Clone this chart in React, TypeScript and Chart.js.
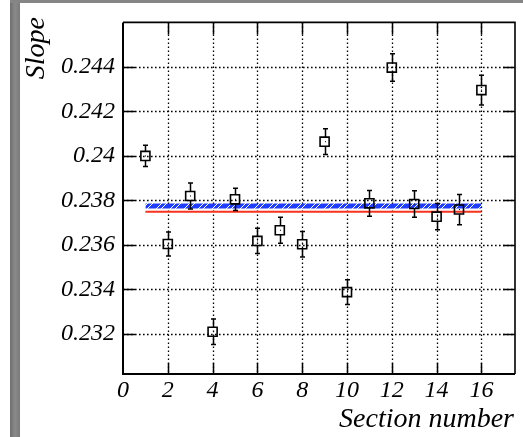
import React, { useEffect, useRef } from 'react';
import { Chart, registerables } from 'chart.js';

Chart.register(...registerables);

const sections = [1, 2, 3, 4, 5, 6, 7, 8, 9, 10, 11, 12, 13, 14, 15, 16];
const slopes = [0.2400, 0.23604, 0.2382, 0.2321, 0.23805, 0.23618, 0.23666, 0.23603, 0.24064, 0.23388, 0.23787, 0.24397, 0.23784, 0.23727, 0.23759, 0.24296];
const slopeErrors = [0.00048, 0.00054, 0.00058, 0.00057, 0.0005, 0.00057, 0.00058, 0.00057, 0.00058, 0.00056, 0.00058, 0.00062, 0.0006, 0.00059, 0.00068, 0.00067];
const fitValue = 0.23749;
const bandLow = 0.23764;
const bandHigh = 0.23786;
const fitRange = [1, 16];
const xTicks = [0, 2, 4, 6, 8, 10, 12, 14, 16];
const xTickLabels = ['0', '2', '4', '6', '8', '10', '12', '14', '16'];
const yTicks = [0.232, 0.234, 0.236, 0.238, 0.24, 0.242, 0.244];
const yTickLabels = ['0.232', '0.234', '0.236', '0.238', '0.24', '0.242', '0.244'];
const xTitle = 'Section number';
const yTitle = 'Slope';

const FONT = "'Liberation Serif', 'Times New Roman', 'DejaVu Serif', serif";

function makePattern(): CanvasPattern | string {
  const c = document.createElement('canvas');
  c.width = 14;
  c.height = 14;
  const cx = c.getContext('2d');
  if (!cx) return '#1f3dff';
  const img = cx.createImageData(14, 14);
  for (let y = 0; y < 14; y++) {
    for (let x = 0; x < 14; x++) {
      const d = (x + y) % 14;
      const white = d === 0 || d === 5;
      const k = (y * 14 + x) * 4;
      if (white) {
        img.data[k] = 255; img.data[k + 1] = 255; img.data[k + 2] = 255; img.data[k + 3] = 255;
      } else {
        img.data[k] = 31; img.data[k + 1] = 61; img.data[k + 2] = 255; img.data[k + 3] = 255;
      }
    }
  }
  cx.putImageData(img, 0, 0);
  const p = cx.createPattern(c, 'repeat');
  return p || '#1f3dff';
}

const decorPlugin = {
  id: 'decor',
  beforeDraw(chart: any) {
    const { ctx, width, height } = chart;
    ctx.save();
    ctx.fillStyle = '#ffffff';
    ctx.fillRect(0, 0, width, height);
    const g = ctx.createLinearGradient(10, 0, 20, 0);
    g.addColorStop(0, '#6f6f6f');
    g.addColorStop(0.5, '#8a8a8a');
    g.addColorStop(1, '#7a7a7a');
    ctx.fillStyle = g;
    ctx.fillRect(10, 0, 10, height);
    ctx.fillStyle = '#858585';
    ctx.fillRect(10, 0, width - 10, 3);
    ctx.restore();
  },
  beforeDatasetsDraw(chart: any) {
    const { ctx, chartArea: a, scales } = chart;
    const xs = scales.x, ys = scales.y;
    ctx.save();
    ctx.strokeStyle = '#000';
    ctx.lineWidth = 1.3;
    ctx.setLineDash([1.6, 2.4]);
    xTicks.forEach((v) => {
      const px = Math.round(xs.getPixelForValue(v)) + 0.5;
      if (px <= a.left + 2 || px >= a.right - 2) return;
      ctx.beginPath();
      ctx.moveTo(px, a.top);
      ctx.lineTo(px, a.bottom);
      ctx.stroke();
    });
    yTicks.forEach((v) => {
      const py = Math.round(ys.getPixelForValue(v)) + 0.5;
      ctx.beginPath();
      ctx.moveTo(a.left, py);
      ctx.lineTo(a.right, py);
      ctx.stroke();
    });
    ctx.restore();
  },
  afterDatasetsDraw(chart: any) {
    const { ctx, chartArea: a, scales } = chart;
    const xs = scales.x, ys = scales.y;
    ctx.save();
    ctx.strokeStyle = '#000';
    ctx.lineWidth = 1.5;
    const half = 4.6;
    sections.forEach((s, i) => {
      const px = Math.round(xs.getPixelForValue(s)) + 0.5;
      const py = ys.getPixelForValue(slopes[i]);
      const t = ys.getPixelForValue(slopes[i] + slopeErrors[i]);
      const b = ys.getPixelForValue(slopes[i] - slopeErrors[i]);
      ctx.beginPath();
      ctx.moveTo(px, t);
      ctx.lineTo(px, py - half);
      ctx.moveTo(px, py + half);
      ctx.lineTo(px, b);
      ctx.moveTo(px - 2.5, t);
      ctx.lineTo(px + 2.5, t);
      ctx.moveTo(px - 2.5, b);
      ctx.lineTo(px + 2.5, b);
      ctx.stroke();
      ctx.fillStyle = '#000';
      ctx.fillRect(px - 0.5, py - 0.5, 1, 1);
    });
    ctx.lineWidth = 1.5;
    xTicks.forEach((v) => {
      const px = Math.round(xs.getPixelForValue(v)) + 0.5;
      if (px <= a.left + 2 || px >= a.right - 2) return;
      ctx.beginPath();
      ctx.moveTo(px, a.bottom);
      ctx.lineTo(px, a.bottom - 11);
      ctx.moveTo(px, a.top);
      ctx.lineTo(px, a.top + 12);
      ctx.stroke();
    });
    yTicks.forEach((v) => {
      const py = Math.round(ys.getPixelForValue(v)) + 0.5;
      ctx.beginPath();
      ctx.moveTo(a.left, py);
      ctx.lineTo(a.left + 12, py);
      ctx.moveTo(a.right, py);
      ctx.lineTo(a.right - 12, py);
      ctx.stroke();
    });
    ctx.lineWidth = 2;
    ctx.beginPath();
    ctx.moveTo(a.left, a.top);
    ctx.lineTo(a.left, a.bottom);
    ctx.lineTo(a.right, a.bottom);
    ctx.stroke();
    ctx.lineWidth = 1.6;
    ctx.beginPath();
    ctx.moveTo(a.left, a.top);
    ctx.lineTo(a.right, a.top);
    ctx.lineTo(a.right, a.bottom);
    ctx.stroke();
    ctx.fillStyle = '#000';
    ctx.font = `italic 28px ${FONT}`;
    ctx.textAlign = 'right';
    ctx.textBaseline = 'alphabetic';
    ctx.fillText(xTitle, 514, 427);
    ctx.translate(44, 17);
    ctx.rotate(-Math.PI / 2);
    ctx.fillText(yTitle, 0, 0);
    ctx.restore();
  },
};

export default function App() {
  const ref = useRef<HTMLCanvasElement | null>(null);
  useEffect(() => {
    document.body.style.margin = '0';
    const canvas = ref.current;
    if (!canvas) return;
    let chart: any = null;
    let cancelled = false;
    const build = () => {
      if (cancelled) return;
      const pattern = makePattern();
      chart = new Chart(canvas, {
        type: 'scatter',
        data: {
          datasets: [
            {
              type: 'scatter',
              data: sections.map((s, i) => ({ x: s, y: slopes[i] })),
              pointStyle: 'rect',
              pointRadius: 6.4,
              pointBorderWidth: 1.6,
              pointBorderColor: '#000',
              pointBackgroundColor: 'rgba(255,255,255,0)',
              borderColor: '#000',
            } as any,
            {
              type: 'line',
              data: fitRange.map((x) => ({ x, y: fitValue })),
              borderColor: '#f5331e',
              borderWidth: 2,
              pointRadius: 0,
              fill: false,
            } as any,
            {
              type: 'line',
              data: fitRange.map((x) => ({ x, y: bandHigh })),
              borderWidth: 0,
              borderColor: 'rgba(0,0,0,0)',
              pointRadius: 0,
              fill: false,
            } as any,
            {
              type: 'line',
              data: fitRange.map((x) => ({ x, y: bandLow })),
              borderWidth: 0,
              borderColor: 'rgba(0,0,0,0)',
              backgroundColor: pattern,
              pointRadius: 0,
              fill: '-1',
            } as any,
          ],
        },
        options: {
          responsive: false,
          animation: false,
          devicePixelRatio: 1,
          layout: { padding: { top: 16, right: 4, left: 0, bottom: 0 } },
          plugins: { legend: { display: false }, tooltip: { enabled: false } },
          scales: {
            x: {
              type: 'linear',
              min: 0,
              max: 17.5,
              afterBuildTicks: (s: any) => {
                s.ticks = xTicks.map((v) => ({ value: v }));
              },
              afterFit: (s: any) => {
                s.height = 63;
              },
              ticks: {
                autoSkip: false,
                maxRotation: 0,
                padding: 2,
                color: '#000',
                font: { family: FONT, style: 'italic', size: 24 },
                callback: (v: any) => {
                  const i = xTicks.indexOf(Number(v));
                  return i >= 0 ? xTickLabels[i] : '';
                },
              },
              grid: { display: false, drawTicks: false },
              border: { display: false },
            },
            y: {
              type: 'linear',
              min: 0.2302,
              max: 0.246,
              afterBuildTicks: (s: any) => {
                s.ticks = yTicks.map((v) => ({ value: v }));
              },
              afterFit: (s: any) => {
                s.width = 123;
              },
              ticks: {
                autoSkip: false,
                padding: 8,
                color: '#000',
                font: { family: FONT, style: 'italic', size: 24 },
                callback: (v: any) => {
                  const i = yTicks.findIndex((t) => Math.abs(t - Number(v)) < 1e-9);
                  return i >= 0 ? yTickLabels[i] : '';
                },
              },
              grid: { display: false, drawTicks: false },
              border: { display: false },
            },
          },
        },
        plugins: [decorPlugin],
      } as any);
    };
    const fonts: any = (document as any).fonts;
    if (fonts && fonts.load) {
      Promise.all([
        fonts.load("italic 24px 'Liberation Serif'"),
        fonts.load("italic 28px 'Liberation Serif'"),
      ]).then(build, build);
    } else {
      build();
    }
    return () => {
      cancelled = true;
      if (chart) chart.destroy();
    };
  }, []);
  return (
    <div style={{ position: 'absolute', left: 0, top: 0, width: 523, height: 437 }}>
      <canvas ref={ref} width={523} height={437} style={{ display: 'block' }} />
    </div>
  );
}
